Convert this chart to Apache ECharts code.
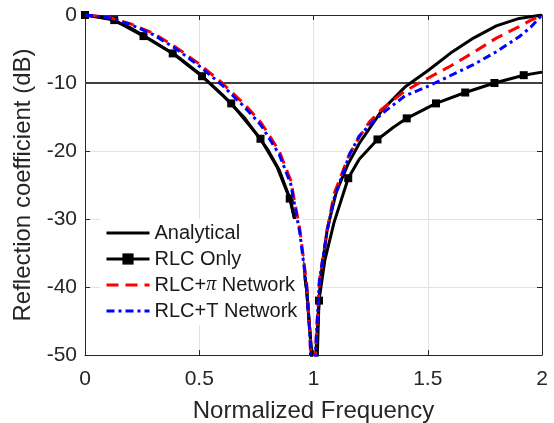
<!DOCTYPE html>
<html>
<head>
<meta charset="utf-8">
<script src="https://cdn.jsdelivr.net/npm/echarts@6/dist/echarts.min.js"></script>
<style>html,body{margin:0;padding:0;background:#fff;}#c{width:554px;height:423px;}</style>
</head>
<body>
<div id="c"></div>
<script>
// Data
const xTicks = [0, 0.5, 1, 1.5, 2];
const yTicks = [0, -10, -20, -30, -40, -50];

const analyticalX = [0, 0.1, 0.2, 0.3, 0.4, 0.5, 0.6, 0.7, 0.8, 0.85, 0.9, 0.94, 0.97, 0.99, 1.0, 1.01, 1.03, 1.06, 1.1, 1.15, 1.2, 1.3, 1.4, 1.5, 1.6, 1.7, 1.8, 1.9, 2.0];
const analyticalY = [0, -0.45, -1.9, -3.9, -6.0, -8.6, -11.7, -15.2, -19.8, -22.8, -27.3, -33.5, -40.5, -49, -62, -50, -39, -31.5, -26, -22, -18.9, -14, -10.6, -8.2, -5.6, -3.4, -1.6, -0.5, 0];

const rlcX = [0, 0.128, 0.256, 0.384, 0.512, 0.64, 0.768, 0.84, 0.896, 0.94, 0.97, 0.99, 1.005, 1.015, 1.024, 1.05, 1.09, 1.152, 1.2, 1.28, 1.35, 1.408, 1.536, 1.664, 1.792, 1.92, 2.0];
const rlcY = [0, -0.75, -3.1, -5.65, -9.0, -13.0, -18.2, -22.3, -27.0, -33.3, -40.3, -49, -62, -52, -42, -36, -30.5, -24, -21.2, -18.3, -16.5, -15.2, -13.0, -11.4, -10.0, -8.85, -8.4];
const rlcMarkerX = [0, 0.128, 0.256, 0.384, 0.512, 0.64, 0.768, 0.896, 1.024, 1.152, 1.28, 1.408, 1.536, 1.664, 1.792, 1.92];

const piX = [0, 0.1, 0.2, 0.3, 0.4, 0.5, 0.6, 0.7, 0.77, 0.85, 0.9, 0.94, 0.97, 0.985, 0.997, 1.008, 1.026, 1.06, 1.09, 1.158, 1.2, 1.245, 1.3, 1.4, 1.5, 1.6, 1.7, 1.8, 1.9, 1.95, 2.0];
const piY = [0, -0.3, -1.3, -2.7, -4.8, -7.2, -10, -13.2, -15.8, -20, -24.3, -31.5, -39.5, -47, -62, -50, -39, -31.7, -26.3, -20.4, -18, -15.7, -13.8, -11.2, -9.3, -7.5, -5.5, -3.4, -1.7, -0.8, 0];

const tX = [0, 0.1, 0.2, 0.3, 0.4, 0.5, 0.6, 0.7, 0.77, 0.85, 0.9, 0.94, 0.97, 0.985, 0.997, 1.008, 1.026, 1.06, 1.09, 1.158, 1.2, 1.245, 1.3, 1.4, 1.5, 1.6, 1.7, 1.8, 1.9, 1.95, 2.0];
const tY = [0, -0.35, -1.4, -2.9, -5.0, -7.5, -10.3, -13.6, -16.2, -20.5, -24.8, -32, -40, -47.5, -62, -50, -39, -31.7, -27, -20.5, -17.8, -16.2, -14.5, -11.9, -10.5, -8.9, -7.3, -5.4, -3.2, -1.8, 0];

const thresholdY = -10;
const seriesNames = ['Analytical', 'RLC Only', 'RLC+π Network', 'RLC+T Network'];

const zip = (xs, ys) => xs.map((x, i) => [x, ys[i]]);
const rlcData = rlcX.map((x, i) => {
  const isMarker = rlcMarkerX.some(m => Math.abs(m - x) < 1e-9);
  return isMarker ? { value: [x, rlcY[i]] } : { value: [x, rlcY[i]], symbol: 'none' };
});

const FONT = '"Liberation Sans", Arial, Helvetica, sans-serif';
const TXT = '#262626';
const chart = echarts.init(document.getElementById('c'), null, { renderer: 'canvas' });

const hidden = { opacity: 0 };
const legendLine = { width: 3 };
chart.setOption({
  animation: false,
  backgroundColor: '#ffffff',
  grid: { left: 85, right: 12, top: 15, bottom: 68, containLabel: false, outerBoundsMode: 'none' },
  xAxis: [{
    type: 'value', min: xTicks[0], max: xTicks[xTicks.length - 1], interval: 0.5,
    name: 'Normalized Frequency', nameLocation: 'middle', nameGap: 44,
    nameTextStyle: { fontFamily: FONT, fontSize: 24, color: TXT },
    axisLine: { show: true, onZero: false, lineStyle: { color: TXT, width: 1 } },
    axisTick: { show: true, inside: true, length: 5, lineStyle: { color: TXT } },
    axisLabel: { fontFamily: FONT, fontSize: 21, color: TXT, margin: 14 },
    splitLine: { show: true, lineStyle: { color: '#e3e3e3', width: 1 } }
  }, {
    type: 'value', position: 'top', min: 0, max: 2, interval: 0.5,
    axisLine: { show: true, onZero: false, lineStyle: { color: TXT, width: 1 } },
    axisTick: { show: true, inside: true, length: 5, lineStyle: { color: TXT } },
    axisLabel: { show: false }, splitLine: { show: false }
  }],
  yAxis: [{
    type: 'value', min: yTicks[yTicks.length - 1], max: yTicks[0], interval: 10,
    name: 'Reflection coefficient (dB)', nameLocation: 'middle', nameGap: 40, nameRotate: 90,
    nameTextStyle: { fontFamily: FONT, fontSize: 24, color: TXT },
    axisLine: { show: true, onZero: false, lineStyle: { color: TXT, width: 1 } },
    axisTick: { show: true, inside: true, length: 5, lineStyle: { color: TXT } },
    axisLabel: { fontFamily: FONT, fontSize: 21, color: TXT, margin: 8 },
    splitLine: { show: true, lineStyle: { color: '#e3e3e3', width: 1 } }
  }, {
    type: 'value', position: 'right', min: -50, max: 0, interval: 10,
    axisLine: { show: true, onZero: false, lineStyle: { color: TXT, width: 1 } },
    axisTick: { show: true, inside: true, length: 5, lineStyle: { color: TXT } },
    axisLabel: { show: false }, splitLine: { show: false }
  }],
  legend: {
    data: [
      { name: seriesNames[0], itemStyle: hidden, lineStyle: legendLine },
      { name: seriesNames[1], lineStyle: legendLine },
      { name: seriesNames[2], itemStyle: hidden, lineStyle: legendLine },
      { name: seriesNames[3], itemStyle: hidden, lineStyle: legendLine }
    ],
    orient: 'vertical', left: 100, top: 219,
    backgroundColor: '#ffffff', padding: [4, 6, 4, 5],
    itemWidth: 43, itemHeight: 14, itemGap: 6,
    lineStyle: legendLine,
    formatter: n => n.replace('π', '{i|π}'),
    textStyle: {
      fontFamily: FONT, fontSize: 20, color: '#1a1a1a',
      rich: { i: { fontFamily: '"Liberation Serif", serif', fontStyle: 'italic', fontSize: 20, color: '#1a1a1a' } }
    }
  },
  series: [
    {
      name: 'threshold', type: 'line', silent: true, symbol: 'none',
      data: [[0, thresholdY], [2, thresholdY]],
      lineStyle: { color: '#404040', width: 2 }, z: 1
    },
    {
      name: seriesNames[0], type: 'line', symbol: 'none', data: zip(analyticalX, analyticalY),
      lineStyle: { color: '#000000', width: 3 }, itemStyle: { color: '#000000' }, z: 2
    },
    {
      name: seriesNames[1], type: 'line', symbol: 'rect', symbolSize: 8, showAllSymbol: true,
      data: rlcData,
      lineStyle: { color: '#000000', width: 3 }, itemStyle: { color: '#000000' }, z: 3
    },
    {
      name: seriesNames[2], type: 'line', symbol: 'none', data: zip(piX, piY),
      lineStyle: { color: '#ff0000', width: 3, type: [12, 7] }, itemStyle: { color: '#ff0000' }, z: 4
    },
    {
      name: seriesNames[3], type: 'line', symbol: 'none', data: zip(tX, tY),
      lineStyle: { color: '#0000ff', width: 3, type: [8, 4, 3, 4] }, itemStyle: { color: '#0000ff' }, z: 5
    }
  ]
});
</script>
</body>
</html>
